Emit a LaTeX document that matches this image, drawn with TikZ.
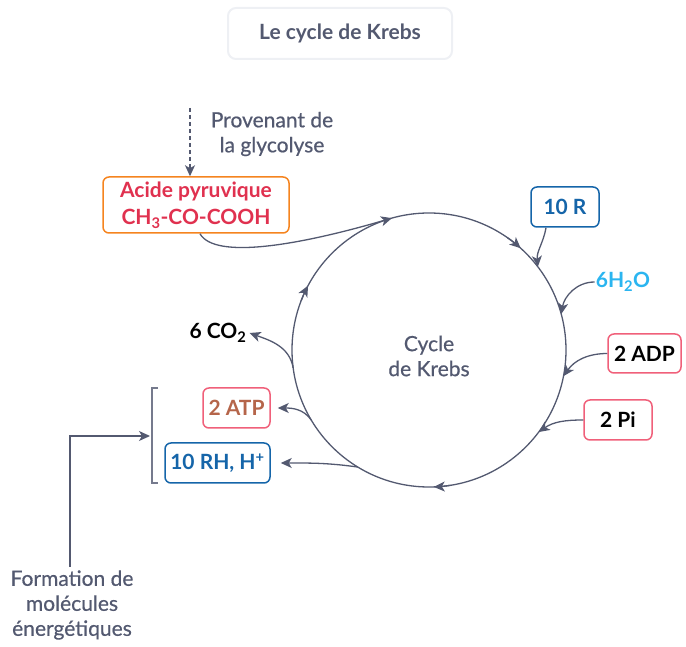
\documentclass[tikz,border=0pt]{standalone}
\usepackage{fontspec}
\setmainfont{Lato}
\newfontfamily\labelfont[FakeBold=0.6]{Lato}
\usetikzlibrary{arrows.meta,calc,positioning}

\definecolor{slate}{HTML}{535970}
\definecolor{pyrorange}{HTML}{F5841F}
\definecolor{pyrred}{HTML}{E0314F}
\definecolor{rblue}{HTML}{1565A9}
\definecolor{watercyan}{HTML}{2BB5F0}
\definecolor{pinkline}{HTML}{F0607A}
\definecolor{atpbrown}{HTML}{B5654A}
\definecolor{titleline}{HTML}{EEF0F4}

\begin{document}
\begin{tikzpicture}[x=1pt,y=1pt,
	>={Stealth[length=11pt,width=10pt,inset=3pt]},
	flow/.style={->,slate,line width=1.3pt},
	box/.style={draw,rounded corners=6pt,line width=1.5pt,inner sep=0pt,
		align=center,font=\bfseries\fontsize{21}{27}\selectfont},
	label/.style={align=center,slate,font=\labelfont\fontsize{21}{25}\selectfont},
	]
	\def\r{137} % radius of the cycle
	\useasboundingbox (0,0) rectangle (686,646);
	
	\coordinate (O) at (429,296); % centre of the cycle
	
	% title
	\node[box,draw=titleline,line width=2pt,rounded corners=8pt,text=slate,
		minimum width=224,minimum height=51] (title) at (340,612.5) {Le cycle de Krebs};
	
	% the cycle
	\draw[slate,line width=1.3pt] (O) circle (\r);
	\node[label] (cycle) at (429,290) {Cycle\\de Krebs};
	\foreach \a in {48,152,272}
		\draw[flow] ($(O)+(\a+7:\r)$) arc[start angle=\a+7, end angle=\a, radius=\r];
	
	% points on the cycle
	\coordinate (inpyr) at ($(O)+(105.7:\r)$);
	\coordinate (inR) at ($(O)+(37.4:\r)$);
	\coordinate (inwater) at ($(O)+(15.2:\r)$);
	\coordinate (inadp) at ($(O)+(-11:\r)$);
	\coordinate (inpi) at ($(O)+(-36.8:\r)$);
	\coordinate (outco) at ($(O)+(187.5:\r)$);
	\coordinate (outatp) at ($(O)+(210.7:\r)$);
	\coordinate (outrh) at ($(O)+(238.7:\r)$);
	
	% entering
	\node[label] (glyco) at (272,512) {Provenant de\\la glycolyse};
	\node[box,draw=pyrorange,text=pyrred,minimum width=186,minimum height=56]
		(pyr) at (196,441) {Acide pyruvique\\CH\textsubscript{3}-CO-COOH};
	\coordinate (dashtop) at (190,538);
	\draw[flow,dash pattern=on 4pt off 3pt] (dashtop) -- ([xshift=-6pt]pyr.north);
	\draw[flow] ([xshift=4pt]pyr.south) .. controls (215,386) and (300,401) .. (inpyr);
	
	\node[box,draw=rblue,text=rblue,minimum width=68,minimum height=40] (tenR) at (565,439) {10 R};
	\draw[flow] ([xshift=-19pt]tenR.south) to[out=-100,in=95] (inR);
	
	\node[font=\bfseries\fontsize{21}{25}\selectfont,text=watercyan,inner sep=1pt]
		(water) at (623,364) {6H\textsubscript{2}O};
	\draw[flow] (water.west) to[out=180,in=80] (inwater);
	
	\node[box,draw=pinkline,text=black,minimum width=73,minimum height=39] (adp) at (644.5,292.5) {2 ADP};
	\draw[flow] (adp.west) to[out=180,in=55] (inadp);
	
	\node[box,draw=pinkline,text=black,minimum width=68,minimum height=40] (pi) at (618,226) {2 Pi};
	\draw[flow] (pi.west) to[out=180,in=35] (inpi);
	
	% leaving
	\node[font=\bfseries\fontsize{21}{25}\selectfont,inner sep=1pt] (co) at (218,313) {6 CO\textsubscript{2}};
	\draw[flow] (outco) to[out=100,in=-20] ([xshift=2pt]co.east);
	
	\node[box,draw=pinkline,text=atpbrown,minimum width=67,minimum height=40] (atp) at (236.5,238) {2 ATP};
	\draw[flow] (outatp) to[out=125,in=0] ([xshift=7pt]atp.east);
	
	\node[box,draw=rblue,text=rblue,minimum width=105,minimum height=40] (rh) at (217.5,183) {10 RH, H\textsuperscript{+}};
	\draw[flow] (outrh) to[out=172,in=0] ([xshift=10pt]rh.east);
	
	% energetic molecules
	\draw[slate!80,line width=1.3pt] (158,258) -- (152,258) -- (152,163) -- (158,163);
	\coordinate (brack) at (150,210);
	\node[label] (forma) at (72,41) {Formation de\\molécules\\énergétiques};
	\draw[flow] (forma.north -| 70,0) |- (brack);
\end{tikzpicture}
\end{document}
